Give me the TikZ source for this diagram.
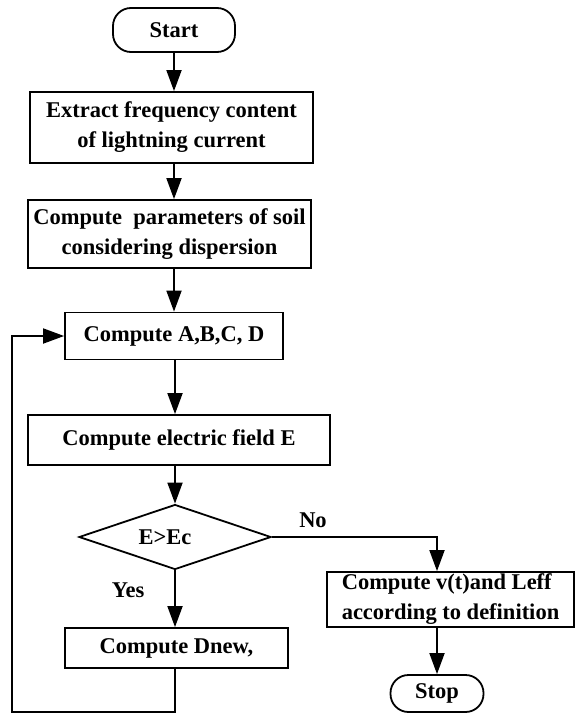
\documentclass[tikz,border=0pt]{standalone}
\usepackage{fontspec}
\setmainfont{Liberation Serif}
\usetikzlibrary{shapes.geometric,arrows.meta}
\begin{document}
\begin{tikzpicture}[x=1pt,y=-1pt,
  every node/.style={font=\fontsize{22.5}{30}\selectfont\bfseries},
  box/.style={draw,line width=1.8pt,rectangle,inner sep=0pt,align=center},
  term/.style={draw,line width=1.8pt,rectangle,rounded corners=18pt,inner sep=0pt},
  dec/.style={draw,line width=1.8pt,diamond,inner sep=0pt},
  flow/.style={line width=1.8pt,-{Triangle[length=21pt,width=15pt]}},
  lbl/.style={inner sep=0pt}]
\useasboundingbox (0,0) rectangle (576,717);
\node[term,minimum width=122pt,minimum height=44pt] (start) at (174,30) {Start};
\node[box,minimum width=283pt,minimum height=71pt] (b1) at (171.5,127.5) {Extract frequency content\\of lightning current};
\node[box,minimum width=283pt,minimum height=68pt] (b2) at (169.5,234) {Compute\ \ parameters of soil\\considering dispersion};
\node[box,minimum width=218pt,minimum height=47pt] (b3) at (174,336) {Compute A,B,C, D};
\node[box,minimum width=302pt,minimum height=50pt] (b4) at (179,440) {Compute electric field E};
\node[dec,minimum width=192pt,minimum height=65pt] (dia) at (175,537) {};
\node[lbl] (diatext) at (165,537) {E>Ec};
\node[box,minimum width=223pt,minimum height=40pt] (b6) at (176.5,648) {Compute Dnew,};
\node[box,minimum width=247pt,minimum height=55pt,align=left] (b5) at (450.5,599.5) {Compute v(t)and Leff\\according to definition};
\node[term,minimum width=93pt,minimum height=37pt] (stop) at (437,693.5) {Stop};
\node[lbl] (no) at (313,520) {No};
\node[lbl] (yes) at (128,590) {Yes};
\coordinate (loop) at (12,712);
\draw[flow] (start.south) -- (start.south |- b1.north);
\draw[flow] (start.south |- b1.south) -- (start.south |- b2.north);
\draw[flow] (start.south |- b2.south) -- (start.south |- b3.north);
\draw[flow] (b3.south -| dia) -- (dia |- b4.north);
\draw[flow] (b4.south -| dia) -- (dia.north);
\draw[flow] (dia.south) -- (dia.south |- b6.north);
\draw[flow] (dia.east) -| (stop |- b5.north);
\draw[flow] (stop |- b5.south) -- (stop.north);
\draw[flow] (b6.south -| dia) |- (loop) |- (b3.west);
\end{tikzpicture}
\end{document}
